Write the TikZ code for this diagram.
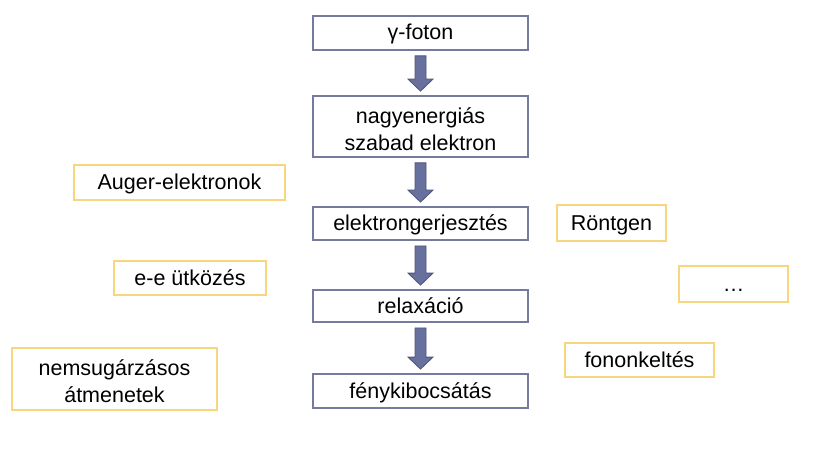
\documentclass[tikz,border=0pt]{standalone}
\usepackage{fontspec}
\setmainfont{Liberation Sans}
\usetikzlibrary{calc}
\definecolor{mainborder}{RGB}{118,122,158}
\definecolor{arrfill}{RGB}{104,112,158}
\definecolor{arrdraw}{RGB}{78,84,124}
\definecolor{yelborder}{RGB}{248,214,128}
\tikzset{
  boxbase/.style={draw, line width=1.8pt, inner sep=0pt, align=center,
    font=\fontsize{21.5}{27}\selectfont, text=black},
  single/.style={text height=17pt, text depth=3pt},
  mainbox/.style={boxbase, draw=mainborder, minimum width=215pt},
  sidebox/.style={boxbase, draw=yelborder},
  fatarr/.style={fill=arrfill, draw=arrdraw, line width=0.8pt, line join=miter}
}
\newcommand{\fatarrow}[2]{%
  \path[fatarr] ($(#1.south)+(-5.5,5)$) -- ($(#2.north)+(-5.5,-16)$) -- ($(#2.north)+(-12.5,-16)$)
    -- ($(#2.north)+(0,-4)$) -- ($(#2.north)+(12.5,-16)$) -- ($(#2.north)+(5.5,-16)$)
    -- ($(#1.south)+(5.5,5)$) -- cycle;}
\newcommand{\toplift}{\rule{0pt}{21pt}}
\begin{document}
\begin{tikzpicture}[x=1pt,y=-1pt]
\useasboundingbox (0,0) rectangle (820,468);
% main chain
\node[mainbox, single, minimum height=34pt] (gamma) at (420.5,33) {γ-foton};
\node[mainbox, minimum height=61pt] (nagy) at (420.5,126.5) {\toplift nagyenergiás\\szabad elektron};
\node[mainbox, single, minimum height=33pt] (gerj) at (420.5,223.5) {elektrongerjesztés};
\node[mainbox, single, minimum height=32pt] (relax) at (420.5,306) {relaxáció};
\node[mainbox, single, minimum height=34pt] (feny) at (420.5,391) {fénykibocsátás};
% arrows
\fatarrow{gamma}{nagy}
\fatarrow{nagy}{gerj}
\fatarrow{gerj}{relax}
\fatarrow{relax}{feny}
% side boxes
\node[sidebox, single, minimum width=211pt, minimum height=35pt] (auger) at (179.5,182.5) {Auger-elektronok};
\node[sidebox, single, minimum width=109pt, minimum height=36pt] (rontgen) at (611.5,223) {Röntgen};
\node[sidebox, single, minimum width=152pt, minimum height=34pt] (ee) at (190,278) {e-e ütközés};
\node[sidebox, single, minimum width=109pt, minimum height=36pt] (dots) at (733.5,284) {…};
\node[sidebox, minimum width=205pt, minimum height=62pt] (nemsug) at (114.5,379) {\toplift nemsugárzásos\\átmenetek};
\node[sidebox, single, minimum width=149pt, minimum height=34pt] (fonon) at (639.5,360) {fononkeltés};
\end{tikzpicture}
\end{document}
